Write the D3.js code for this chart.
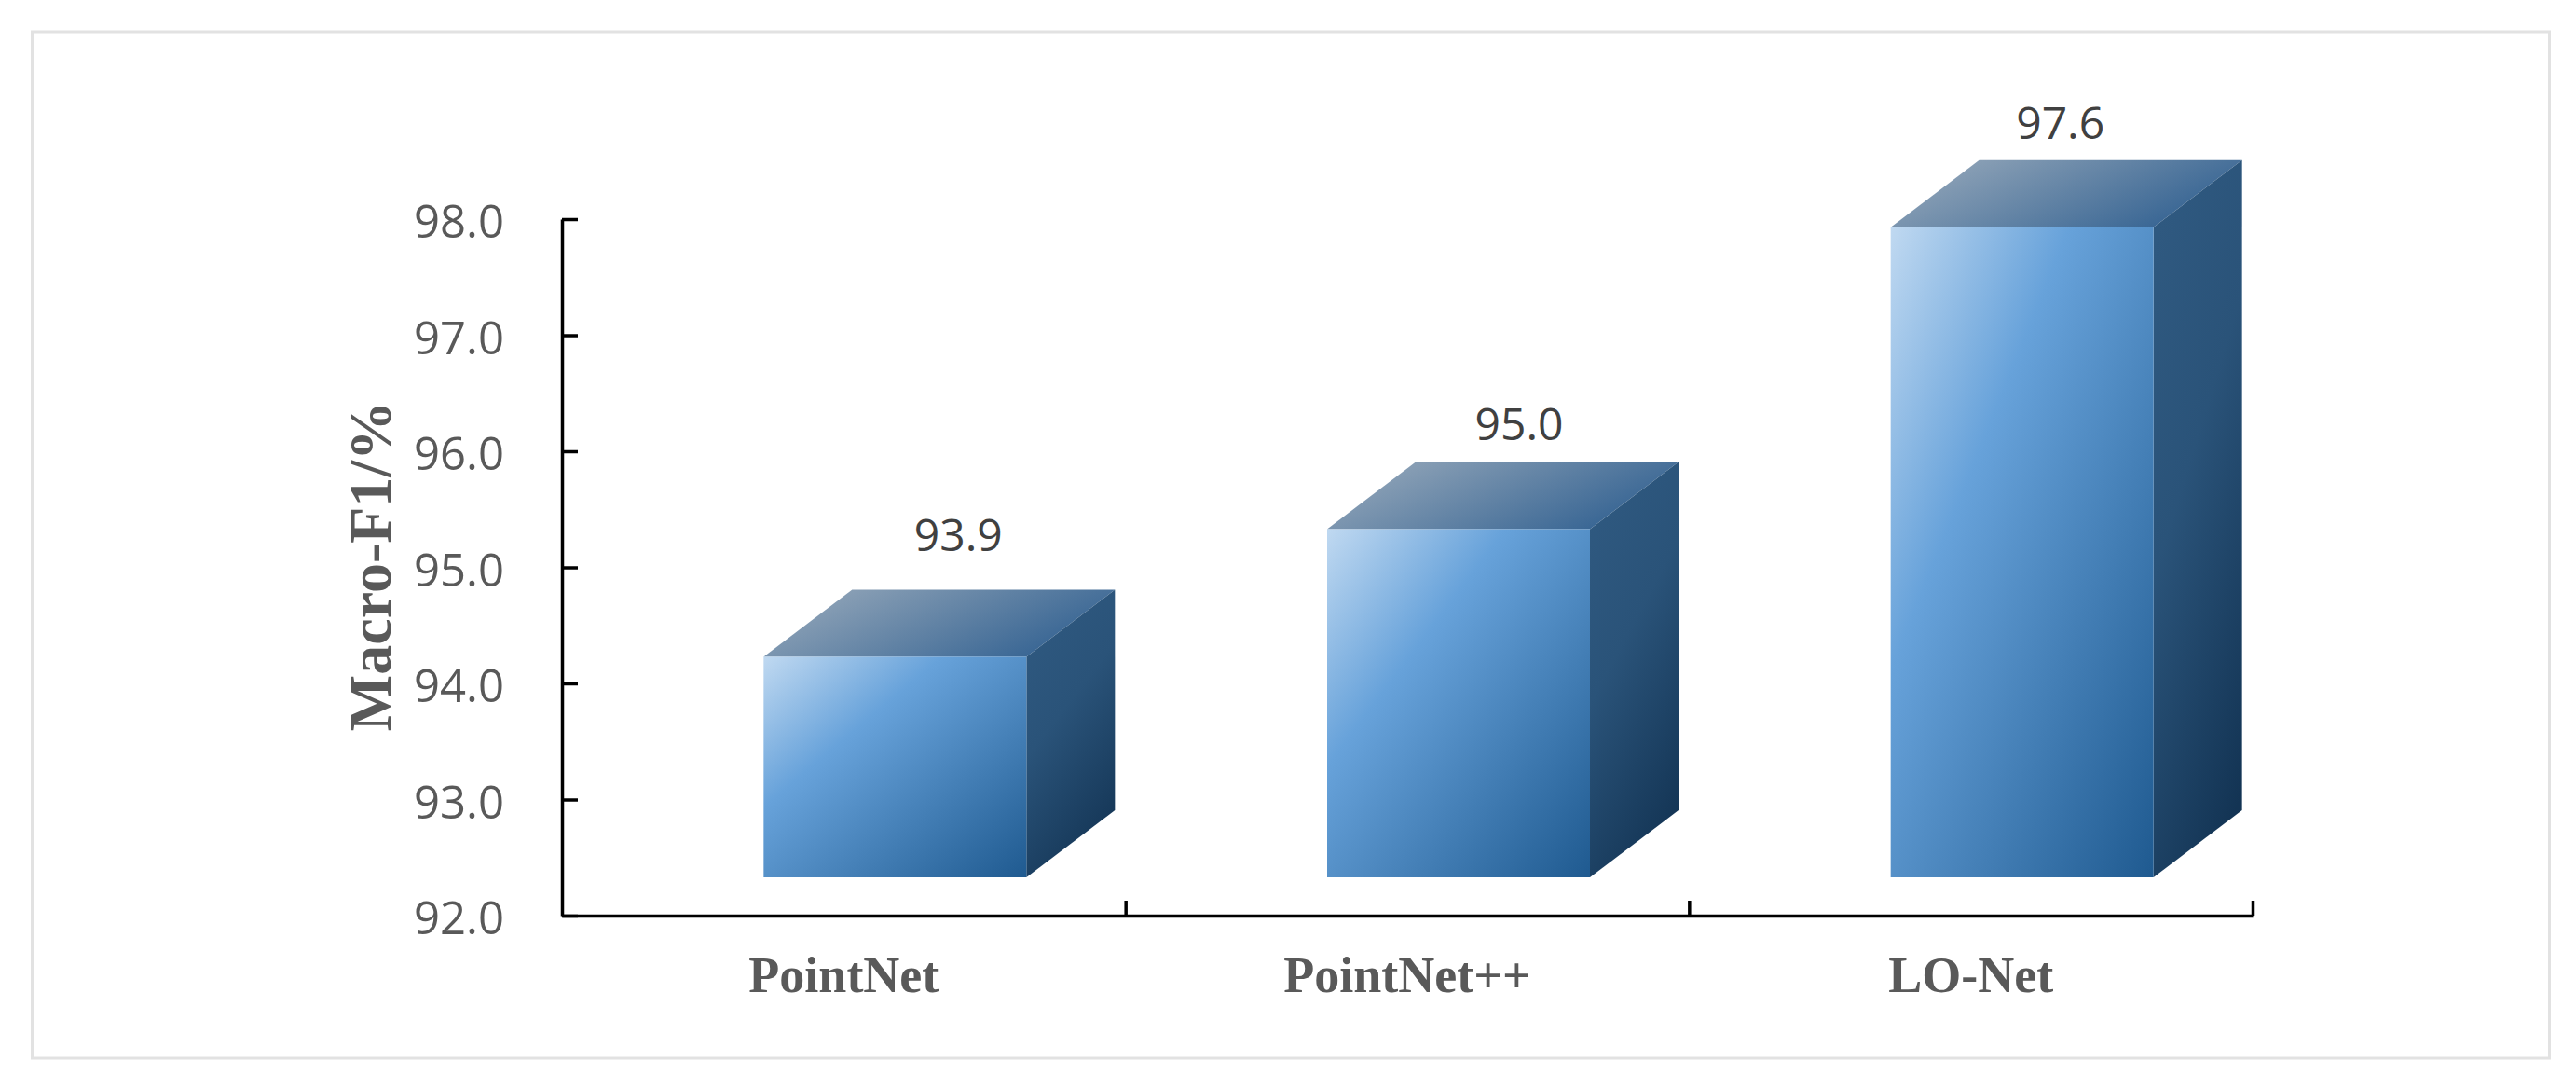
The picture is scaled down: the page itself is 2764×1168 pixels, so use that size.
<!DOCTYPE html>
<html>
<head>
<meta charset="utf-8">
<script src="https://cdn.jsdelivr.net/npm/d3@7"></script>
<style>
  html, body { margin: 0; background: #fff; }
  svg { display: block; }
  .tickLabel { font-family: "Open Sans", sans-serif; font-size: 49px; fill: #595959; }
  .valueLabel { font-family: "Open Sans", sans-serif; font-size: 48px; fill: #404040; }
  .catLabel { font-family: "Liberation Serif", serif; font-weight: bold; font-size: 54px; fill: #595959; }
  .axisTitle { font-family: "Liberation Serif", serif; font-weight: bold; font-size: 64px; fill: #595959; }
</style>
</head>
<body>
<script>
var categories = ['PointNet', 'PointNet++', 'LO-Net'];
var values = [93.9, 95.0, 97.6];
var yTicks = [92, 93, 94, 95, 96, 97, 98];
var yTitle = 'Macro-F1/%';

var W = 2764, H = 1168;
var plot = { left: 603, right: 2417, top: 235, bottom: 982 };
var floorLift = 41;              //the 3D floor sits above the axis line
var depth = { x: 95, y: 72 };
var barWidth = 282, barShift = 55;
//The value labels were placed by hand in the original, so each has its own nudge
var labelNudge = [{ x: 68, y: -59 }, { x: 65, y: -41 }, { x: 41, y: -40 }];

var svg = d3.select('body').append('svg').attr('width', W).attr('height', H);

svg.append('rect')
    .attr('x', 34.5).attr('y', 34)
    .attr('width', 2701).attr('height', 1101)
    .attr('fill', '#fff')
    .attr('stroke', '#e2e2e2')
    .attr('stroke-width', 3);

var y = d3.scaleLinear().domain([92, 98]).range([plot.bottom, plot.top]);
var x = d3.scaleBand().domain(categories).range([plot.left, plot.right]);
var xEdges = d3.scaleLinear().domain([0, categories.length]).range([plot.left, plot.right]);

// Gradients
var defs = svg.append('defs');
function gradient(id, coords, stops) {
    var g = defs.append('linearGradient').attr('id', id)
        .attr('x1', coords[0]).attr('y1', coords[1])
        .attr('x2', coords[2]).attr('y2', coords[3]);
    stops.forEach(function (s) {
        g.append('stop').attr('offset', s[0]).attr('stop-color', s[1]);
    });
}
gradient('frontFill', [0, 0, 1, 1], [[0, '#c0d9f1'], [0.34, '#67a2da'], [1, '#1f5a90']]);
gradient('topFill', [0, 0.3, 1, 0.7], [[0, '#93a6b9'], [1, '#2f5f90']]);
gradient('sideFill', [0.3, 0, 0.7, 1], [[0, '#2f5980'], [0.4, '#2a5379'], [1, '#133454']]);

// Bars
var bars = svg.append('g').attr('class', 'bars')
    .selectAll('g')
    .data(categories)
    .enter()
    .append('g');

function front(d, i) {
    var left = x(d) + (x.bandwidth() - barWidth) / 2 + barShift;
    return {
        left: left,
        right: left + barWidth,
        top: y(values[i]) - floorLift,
        bottom: y(92) - floorLift
    };
}
function poly(points) {
    return points.map(function (p) { return p.join(','); }).join(' ');
}

bars.append('polygon')
    .attr('fill', 'url(#topFill)')
    .attr('points', function (d, i) {
        var f = front(d, i);
        return poly([[f.left, f.top], [f.left + depth.x, f.top - depth.y],
            [f.right + depth.x, f.top - depth.y], [f.right, f.top]]);
    });
bars.append('polygon')
    .attr('fill', 'url(#sideFill)')
    .attr('points', function (d, i) {
        var f = front(d, i);
        return poly([[f.right, f.top], [f.right + depth.x, f.top - depth.y],
            [f.right + depth.x, f.bottom - depth.y], [f.right, f.bottom]]);
    });
bars.append('rect')
    .attr('fill', 'url(#frontFill)')
    .attr('x', function (d, i) { return front(d, i).left; })
    .attr('y', function (d, i) { return front(d, i).top; })
    .attr('width', barWidth)
    .attr('height', function (d, i) { var f = front(d, i); return f.bottom - f.top; });

bars.append('text')
    .attr('class', 'valueLabel')
    .attr('text-anchor', 'middle')
    .attr('dy', '0.36em')
    .attr('x', function (d, i) { return front(d, i).left + barWidth / 2 + labelNudge[i].x; })
    .attr('y', function (d, i) { return front(d, i).top - depth.y + labelNudge[i].y; })
    .text(function (d, i) { return values[i].toFixed(1); });

// Axes
var yAxis = svg.append('g')
    .attr('transform', 'translate(' + plot.left + ',0)')
    .call(d3.axisLeft(y).tickValues(yTicks).tickSize(-17).tickSizeOuter(0).tickPadding(62)
        .tickFormat(function (d) { return d.toFixed(1); }));
yAxis.selectAll('text').attr('class', 'tickLabel').attr('font-size', null).attr('font-family', null)
    .attr('dy', '0.4em');

var xAxis = svg.append('g')
    .attr('transform', 'translate(0,' + plot.bottom + ')')
    .call(d3.axisBottom(x).tickSize(0).tickPadding(44));
xAxis.selectAll('text').attr('class', 'catLabel').attr('font-size', null).attr('font-family', null);

var xTicks = svg.append('g')
    .attr('transform', 'translate(0,' + plot.bottom + ')')
    .call(d3.axisBottom(xEdges).tickValues(d3.range(1, categories.length + 1))
        .tickSize(-16).tickSizeOuter(0).tickFormat(''));
xTicks.select('.domain').remove();

svg.selectAll('.domain, .tick line').attr('stroke', '#000').attr('stroke-width', 3.5);

svg.append('text')
    .attr('class', 'axisTitle')
    .attr('text-anchor', 'middle')
    .attr('transform', 'translate(419,607) rotate(-90)')
    .text(yTitle);
</script>
</body>
</html>
